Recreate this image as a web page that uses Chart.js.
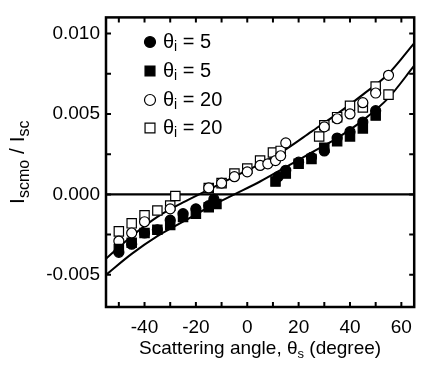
<!DOCTYPE html>
<html>
<head>
<meta charset="utf-8">
<script src="https://cdn.jsdelivr.net/npm/chart.js@4.4.1/dist/chart.umd.min.js"></script>
<style>
  html, body { margin: 0; padding: 0; background: #fff; }
  #wrap { width: 422px; height: 371px; }
</style>
</head>
<body>
<div id="wrap"><canvas id="chart" width="422" height="371"></canvas></div>
<script>
// ── Data ──────────────────────────────────────────────────────
const xTicks = [-40, -20, 0, 20, 40, 60];
const xMinor = [-50, -30, -10, 10, 30, 50];
const yTicks = [-0.005, 0.000, 0.005, 0.010];
const yMinor = [-0.0025, 0.0025, 0.0075];

// theta_i = 5, filled circles
const c5X = [-50, -45, -40, -35, -30, -25, -20, -15, -13, 12, 15, 20, 25, 30, 35, 40, 45, 50];
const c5Y = [-0.0036, -0.0031, -0.0024, -0.0022, -0.0016, -0.0012, -0.0009, -0.0007, -0.0003,
             0.0011, 0.0015, 0.0020, 0.0023, 0.0027, 0.0035, 0.0039, 0.0045, 0.0052];
// theta_i = 5, filled squares
const s5X = [-50, -45, -40, -35, -30, -25, -20, -15, -12, 11, 15, 20, 25, 30, 35, 40, 45, 50];
const s5Y = [-0.0034, -0.0030, -0.0024, -0.0022, -0.0019, -0.0014, -0.0012, -0.0008, -0.0006,
             0.0008, 0.0013, 0.0019, 0.0022, 0.0029, 0.0033, 0.0036, 0.0041, 0.0049];
// theta_i = 20, open circles
const c20X = [-50, -45, -40, -30, -15, -10, -5, 0, 5, 8, 11, 13, 15, 30, 35, 40, 45, 50, 55];
const c20Y = [-0.0029, -0.0024, -0.0017, -0.0009, 0.0004, 0.0007, 0.0011, 0.0014, 0.0018, 0.0019,
              0.0021, 0.0024, 0.0032, 0.0042, 0.0047, 0.0050, 0.0057, 0.0063, 0.0074];
// theta_i = 20, open squares
const s20X = [-50, -45, -40, -35, -30, -28, -15, -10, -5, 0, 5, 10, 13, 28, 30, 35, 40, 45, 50, 55];
const s20Y = [-0.0023, -0.0018, -0.0013, -0.0010, -0.0007, -0.0001, 0.0004, 0.0007, 0.0013, 0.0016,
              0.0021, 0.0026, 0.0027, 0.0036, 0.0043, 0.0048, 0.0055, 0.0054, 0.0067, 0.0062];

// fitted curves
const fitX = [-55, -45, -35, -25, -15, -5, 5, 15, 25, 35, 45, 55, 65];
const fitUpperY = [-0.0040, -0.0026, -0.0014, -0.0005, 0.0003, 0.0011, 0.0019, 0.0028, 0.0039, 0.0050, 0.0062, 0.0075, 0.0094];
const fitLowerY = [-0.0050, -0.0037, -0.0026, -0.0017, -0.0008, 0.0000, 0.0008, 0.0017, 0.0026, 0.0035, 0.0046, 0.0060, 0.0080];

const legendValues = ['5', '5', '20', '20'];

// ── helpers ───────────────────────────────────────────────────
const FONT = "'Liberation Sans', Arial, Helvetica, sans-serif";
const pts = (xs, ys) => xs.map((x, i) => ({ x, y: ys[i] }));

function marker(style, filled) {
  return {
    type: 'scatter',
    pointStyle: style,
    pointRadius: style === 'rect' ? 6.6 : 5,
    pointBorderWidth: 1.2,
    pointBorderColor: '#000',
    pointBackgroundColor: filled ? '#000' : '#fff',
    showLine: false
  };
}

function fitLine(data) {
  return {
    type: 'scatter', data, showLine: true, pointRadius: 0,
    borderColor: '#000', borderWidth: 2, cubicInterpolationMode: 'monotone', order: 10
  };
}

// draw a run of text pieces, some as subscripts
function drawRich(ctx, parts, x, y) {
  let cx = x;
  parts.forEach(p => {
    ctx.font = `${p.size}px ${FONT}`;
    ctx.fillText(p.t, cx, y + (p.dy || 0));
    cx += ctx.measureText(p.t).width;
  });
  return cx - x;
}
function richWidth(ctx, parts) {
  return parts.reduce((w, p) => { ctx.font = `${p.size}px ${FONT}`; return w + ctx.measureText(p.t).width; }, 0);
}

// ── frame, ticks, zero line, legend and axis titles ──────────
const framePlugin = {
  id: 'frame',
  beforeDatasetsDraw(chart) {
    const { ctx, chartArea: a, scales: { x, y } } = chart;
    ctx.save();
    ctx.strokeStyle = '#000';
    ctx.lineWidth = 2.2;
    const y0 = y.getPixelForValue(0);
    ctx.beginPath(); ctx.moveTo(a.left, y0); ctx.lineTo(a.right, y0); ctx.stroke();
    ctx.restore();
  },
  afterDraw(chart) {
    const { ctx, chartArea: a, scales: { x, y } } = chart;
    ctx.save();
    ctx.strokeStyle = '#000';
    ctx.fillStyle = '#000';

    // box
    ctx.lineWidth = 2.5;
    ctx.strokeRect(a.left, a.top, a.right - a.left, a.bottom - a.top);

    // inward ticks on all four sides
    ctx.lineWidth = 2;
    const tl = 5;
    ctx.beginPath();
    xTicks.concat(xMinor).forEach(v => {
      const px = x.getPixelForValue(v);
      ctx.moveTo(px, a.bottom); ctx.lineTo(px, a.bottom - tl);
      ctx.moveTo(px, a.top); ctx.lineTo(px, a.top + tl);
    });
    yTicks.concat(yMinor).forEach(v => {
      const py = y.getPixelForValue(v);
      ctx.moveTo(a.left, py); ctx.lineTo(a.left + tl, py);
      ctx.moveTo(a.right, py); ctx.lineTo(a.right - tl, py);
    });
    ctx.stroke();

    // legend
    const styles = [['circle', true], ['rect', true], ['circle', false], ['rect', false]];
    const rowY = [42, 71, 100, 128];
    ctx.textBaseline = 'middle';
    ctx.textAlign = 'left';
    legendValues.forEach((val, i) => {
      const [st, filled] = styles[i];
      ctx.fillStyle = filled ? '#000' : '#fff';
      ctx.strokeStyle = '#000';
      ctx.lineWidth = 1.2;
      Chart.helpers.drawPoint(ctx, { pointStyle: st, radius: st === 'rect' ? 7 : 5.5, rotation: 0, borderWidth: 1.2 }, 150, rowY[i]);
      ctx.fillStyle = '#000';
      drawRich(ctx, [
        { t: 'θ', size: 20 },
        { t: 'i', size: 14, dy: 5 },
        { t: ' = ' + val, size: 20 }
      ], 163, rowY[i]);
    });

    // x title
    ctx.textBaseline = 'alphabetic';
    const xParts = [
      { t: 'Scattering angle, θ', size: 19 },
      { t: 's', size: 13, dy: 4 },
      { t: ' (degree)', size: 19 }
    ];
    const xw = richWidth(ctx, xParts);
    drawRich(ctx, xParts, (a.left + a.right) / 2 - xw / 2, 354);

    // y title, rotated
    const yParts = [
      { t: 'I', size: 21 },
      { t: 'scmo', size: 16, dy: 5 },
      { t: ' / I', size: 21 },
      { t: 'sc', size: 16, dy: 5 }
    ];
    const yw = richWidth(ctx, yParts);
    ctx.translate(24, (a.top + a.bottom) / 2);
    ctx.rotate(-Math.PI / 2);
    drawRich(ctx, yParts, -yw / 2, 0);
    ctx.restore();
  }
};

// ── chart ─────────────────────────────────────────────────────
Chart.defaults.font.family = FONT;
Chart.defaults.color = '#000';

new Chart(document.getElementById('chart'), {
  type: 'scatter',
  data: {
    datasets: [
      Object.assign(marker('rect', false), { label: 'θi = 20 (sq)', data: pts(s20X, s20Y), order: 4 }),
      Object.assign(marker('circle', false), { label: 'θi = 20', data: pts(c20X, c20Y), order: 3 }),
      Object.assign(marker('rect', true), { label: 'θi = 5 (sq)', data: pts(s5X, s5Y), order: 2 }),
      Object.assign(marker('circle', true), { label: 'θi = 5', data: pts(c5X, c5Y), order: 1 }),
      Object.assign(fitLine(pts(fitX, fitUpperY)), { label: 'fit 20' }),
      Object.assign(fitLine(pts(fitX, fitLowerY)), { label: 'fit 5' })
    ]
  },
  options: {
    responsive: false,
    animation: false,
    layout: { padding: { top: 6, right: 3, left: 0, bottom: 0 } },
    plugins: { legend: { display: false }, tooltip: { enabled: false } },
    scales: {
      x: {
        type: 'linear', min: -55, max: 65,
        grid: { display: false, drawTicks: false },
        border: { display: false },
        afterBuildTicks: s => { s.ticks = xTicks.map(v => ({ value: v })); },
        afterFit: s => { s.height = 64; },
        ticks: { padding: 9, font: { size: 19 }, maxRotation: 0, callback: v => String(v) }
      },
      y: {
        type: 'linear', min: -0.007, max: 0.011,
        grid: { display: false, drawTicks: false },
        border: { display: false },
        afterBuildTicks: s => { s.ticks = yTicks.map(v => ({ value: v })); },
        afterFit: s => { s.width = 106; },
        ticks: { padding: 6, font: { size: 19 }, callback: v => v.toFixed(3) }
      }
    }
  },
  plugins: [framePlugin]
});
</script>
</body>
</html>
